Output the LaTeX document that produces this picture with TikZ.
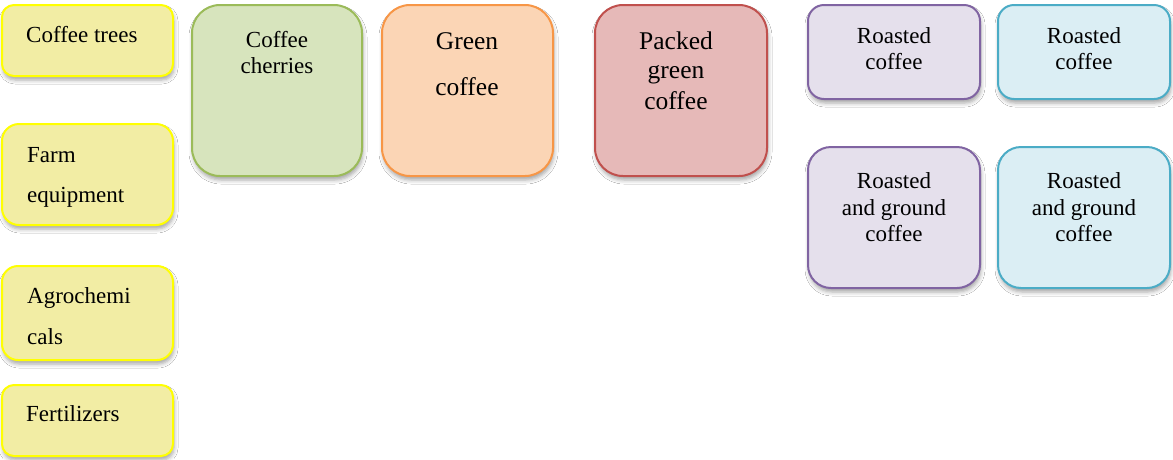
\documentclass[tikz,border=0pt]{standalone}
\usepackage{fontspec}
\setmainfont{Liberation Serif}
\newfontfamily\tnr{Liberation Serif}
\usetikzlibrary{shadows.blur}
\definecolor{yfill}{HTML}{F2EDA4}
\definecolor{ydraw}{HTML}{FFFF00}
\definecolor{gfill}{HTML}{D7E4BD}
\definecolor{gdraw}{HTML}{9BBB59}
\definecolor{ofill}{HTML}{FBD5B5}
\definecolor{odraw}{HTML}{F79646}
\definecolor{rfill}{HTML}{E6B9B8}
\definecolor{rdraw}{HTML}{C0504D}
\definecolor{pfill}{HTML}{E5E0EC}
\definecolor{pdraw}{HTML}{8064A2}
\definecolor{bfill}{HTML}{DBEEF4}
\definecolor{bdraw}{HTML}{4BACC6}
\tikzset{
  box/.style={rectangle, line width=2pt, inner sep=0pt,
    blur shadow={shadow xshift=1pt, shadow yshift=-4pt, shadow blur radius=4pt, shadow opacity=35}},
  ybox/.style={box, fill=yfill, draw=ydraw},
  gbox/.style={box, fill=gfill, draw=gdraw},
  obox/.style={box, fill=ofill, draw=odraw},
  rbox/.style={box, fill=rfill, draw=rdraw},
  pbox/.style={box, fill=pfill, draw=pdraw},
  bbox/.style={box, fill=bfill, draw=bdraw},
  lbl/.style={font=\tnr\fontsize{23}{27}\selectfont, inner sep=0pt, anchor=base},
  lbll/.style={lbl, anchor=base west},
  big/.style={font=\tnr\fontsize{25.5}{30}\selectfont, inner sep=0pt, anchor=base}
}
\begin{document}
\begin{tikzpicture}[x=1pt,y=-1pt]
\useasboundingbox[fill=white] (0,0) rectangle (1173,459);
% left column
\node[ybox, minimum width=171pt, minimum height=71pt, rounded corners=12pt] (trees) at (87.5,40.5) {};
\node[ybox, minimum width=171pt, minimum height=101pt, rounded corners=17pt] (farm) at (87.5,174.5) {};
\node[ybox, minimum width=171pt, minimum height=94pt, rounded corners=16pt] (agro) at (87.5,313) {};
\node[ybox, minimum width=171pt, minimum height=71pt, rounded corners=12pt] (fert) at (87.5,420.5) {};
% big boxes
\node[gbox, minimum width=170pt, minimum height=171pt, rounded corners=28pt] (cherries) at (277,90.5) {};
\node[obox, minimum width=171pt, minimum height=171pt, rounded corners=28pt] (green) at (467.5,90.5) {};
\node[rbox, minimum width=172pt, minimum height=171pt, rounded corners=28pt] (packed) at (681,90.5) {};
% roasted
\node[pbox, minimum width=172pt, minimum height=94pt, rounded corners=16pt] (rc1) at (894,52) {};
\node[bbox, minimum width=172pt, minimum height=94pt, rounded corners=16pt] (rc2) at (1084,52) {};
\node[pbox, minimum width=172pt, minimum height=141pt, rounded corners=23pt] (rg1) at (894,217.5) {};
\node[bbox, minimum width=172pt, minimum height=141pt, rounded corners=23pt] (rg2) at (1084,217.5) {};
% texts
\node[lbll] (t1) at (26,42) {Coffee trees};
\node[lbll] (t2a) at (27,162) {Farm};
\node[lbll] (t2b) at (27,202) {equipment};
\node[lbll] (t3a) at (27,303) {Agrochemi};
\node[lbll] (t3b) at (27,344) {cals};
\node[lbll] (t4) at (26,421) {Fertilizers};
\node[lbl] (c1) at (277,47) {Coffee};
\node[lbl] (c2) at (277,73) {cherries};
\node[big] (g1) at (467,49) {Green};
\node[big] (g2) at (467,95) {coffee};
\node[big] (p1) at (676,49) {Packed};
\node[big] (p2) at (676,78) {green};
\node[big] (p3) at (676,109) {coffee};
\node[lbl] (r1a) at (894,43) {Roasted};
\node[lbl] (r1b) at (894,69) {coffee};
\node[lbl] (r2a) at (1084,43) {Roasted};
\node[lbl] (r2b) at (1084,69) {coffee};
\node[lbl] (s1a) at (894,188) {Roasted};
\node[lbl] (s1b) at (894,215) {and ground};
\node[lbl] (s1c) at (894,241) {coffee};
\node[lbl] (s2a) at (1084,188) {Roasted};
\node[lbl] (s2b) at (1084,215) {and ground};
\node[lbl] (s2c) at (1084,241) {coffee};
\end{tikzpicture}
\end{document}
